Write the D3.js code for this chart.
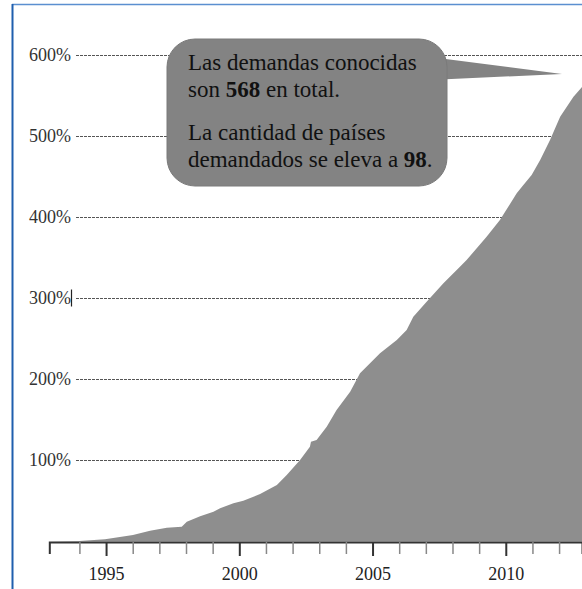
<!DOCTYPE html>
<html>
<head>
<meta charset="utf-8">
<script src="https://cdn.jsdelivr.net/npm/d3@7"></script>
<style>
  body { margin: 0; background: #fff; }
  svg text { font-family: "Liberation Serif", "DejaVu Serif", "Times New Roman", serif; }
</style>
</head>
<body>
<svg></svg>
<script>
var width = 582,
    height = 589;
var serif = "'Liberation Serif', 'DejaVu Serif', 'Times New Roman', serif";
var svg = d3.select("svg")
    .attr("width", width)
    .attr("height", height)
    .attr("font-family", serif);

// data: cumulative demands (shown as %)
var years = [1992.87, 1994, 1994.96, 1996.01, 1996.65, 1997.28, 1997.84, 1998.03, 1998.53, 1999.03,
    1999.28, 1999.78, 2000.15, 2000.78, 2001.41, 2001.78, 2002.28, 2002.65, 2002.69, 2002.9,
    2003.28, 2003.65, 2004.16, 2004.53, 2005.28, 2005.91, 2006.28, 2006.53, 2007.03, 2007.66,
    2008.28, 2008.53, 2009.28, 2009.78, 2010.41, 2010.66, 2010.97, 2011.29, 2011.66, 2012.04,
    2012.54, 2012.86, 2013.0];
var demands = [0, 0.6, 2.7, 8.0, 13.3, 17.0, 18.3, 24.4, 31.1, 36.8,
    41.0, 47.2, 50.4, 58.6, 69.8, 82.1, 100.6, 117.0, 123.2, 125.3,
    141.7, 162.3, 184.9, 207.7, 232.3, 248.8, 261.1, 277.5, 296.0, 318.8,
    339.3, 347.5, 376.3, 396.9, 429.9, 440.1, 452.5, 471.0, 495.7, 524.4,
    549.1, 561.1, 568];
var yTicks = [100, 200, 300, 400, 500, 600];
var xTicks = d3.range(1994, 2013);
var xLabels = [1995, 2000, 2005, 2010];
var note1 = [["Las demandas conocidas", false]];
var note2 = [["son ", false], ["568", true], [" en total.", false]];
var note3 = [["La cantidad de países", false]];
var note4 = [["demandados se eleva a ", false], ["98", true], [".", false]];

var data = years.map((d, i) => ({year: d, v: demands[i]}));

var x = d3.scaleLinear()
    .domain([1992.87, 2012.86])
    .range([49.3, 582]);
var y = d3.scaleLinear()
    .domain([0, 600])
    .range([541.5, 55.5]);

// frame
svg.append("line")
    .attr("x1", 12).attr("x2", width).attr("y1", 4.5).attr("y2", 4.5)
    .attr("stroke", "#5b8fd0").attr("stroke-width", 1.5);
svg.append("line")
    .attr("x1", 12.5).attr("x2", 12.5).attr("y1", 4).attr("y2", height)
    .attr("stroke", "#1f5fae").attr("stroke-width", 2);

// gridlines + y labels
var grid = svg.append("g");
grid.selectAll("line")
    .data(yTicks)
    .enter().append("line")
    .attr("x1", 76).attr("x2", width)
    .attr("y1", d => y(d)).attr("y2", d => y(d))
    .attr("stroke", "#555")
    .attr("stroke-width", 1)
    .attr("stroke-dasharray", "3,1");
grid.selectAll("text")
    .data(yTicks)
    .enter().append("text")
    .attr("x", 71)
    .attr("y", d => y(d))
    .attr("dy", "0.33em")
    .attr("text-anchor", "end")
    .attr("font-family", serif)
    .attr("font-size", 18)
    .attr("fill", "#333")
    .text(d => d + "%");
// stray cursor mark after 300%
svg.append("line")
    .attr("x1", 71.5).attr("x2", 71.5)
    .attr("y1", y(300) - 9).attr("y2", y(300) + 8)
    .attr("stroke", "#222").attr("stroke-width", 1.2);

// area
var area = d3.area()
    .x(d => x(d.year))
    .y0(y(0))
    .y1(d => y(d.v));
svg.append("path")
    .datum(data)
    .attr("d", area)
    .attr("fill", "#8e8e8e");

// x axis
var xAxis = d3.axisBottom(x)
    .tickValues(xTicks)
    .tickSize(12)
    .tickSizeOuter(12)
    .tickPadding(13)
    .tickFormat(d => xLabels.indexOf(d) >= 0 ? d : "");
var gx = svg.append("g")
    .attr("transform", "translate(0," + 542 + ")")
    .call(xAxis)
    .attr("font-family", serif);
gx.select(".domain")
    .attr("stroke", "#333")
    .attr("stroke-width", 2);
gx.selectAll(".tick line")
    .attr("stroke", d => xLabels.indexOf(d) >= 0 ? "#333" : "#888")
    .attr("stroke-width", d => xLabels.indexOf(d) >= 0 ? 2 : 1.5)
    .attr("y2", d => xLabels.indexOf(d) >= 0 ? 14 : 12);
gx.selectAll(".tick text")
    .attr("font-size", 18)
    .attr("font-family", serif)
    .attr("fill", "#222");

// callout
var note = svg.append("g");
note.append("path")
    .attr("d", "M430,57 L562,74 L430,80 Z")
    .attr("fill", "#838383");
note.append("rect")
    .attr("x", 167).attr("y", 39)
    .attr("width", 280).attr("height", 147)
    .attr("rx", 28).attr("ry", 28)
    .attr("fill", "#838383")
    .attr("stroke", "#7a7a7a")
    .attr("stroke-width", 1);

var lines = [note1, note2, note3, note4];
var baselines = [70, 97, 140, 167];
lines.forEach((parts, i) => {
    var t = note.append("text")
        .attr("x", 188)
        .attr("y", baselines[i])
        .attr("font-family", serif)
        .attr("font-size", 23)
        .attr("fill", "#111");
    parts.forEach(p => {
        t.append("tspan")
            .attr("font-weight", p[1] ? "bold" : "normal")
            .text(p[0]);
    });
});
</script>
</body>
</html>
